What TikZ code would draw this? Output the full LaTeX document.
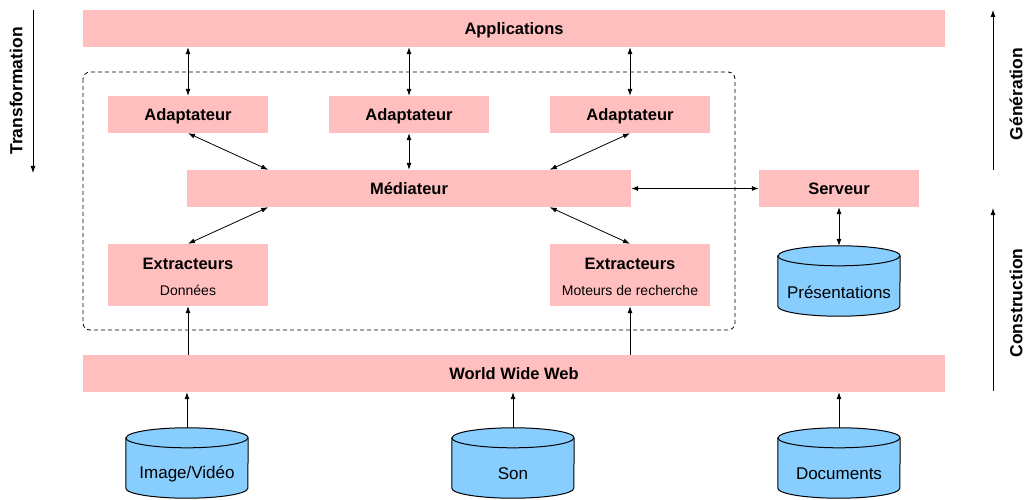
\documentclass[tikz,border=0pt]{standalone}
\usepackage{fontspec}
\setmainfont{Liberation Sans}
\usetikzlibrary{arrows.meta,calc,positioning}
\definecolor{BoxPink}{HTML}{FFBFBF}
\definecolor{BaseBlue}{HTML}{87CEFF}
\tikzset{
  tier/.style={
    fill=BoxPink, inner sep=0pt, align=center,
    minimum width=160pt, minimum height=37pt,
    font=\fontsize{16.5}{19}\selectfont\bfseries
  },
  bar/.style={tier, text height=12pt, text depth=0pt},
  drumbox/.style={minimum width=122pt, minimum height=70pt, inner sep=0pt},
  drumline/.style={draw=black, fill=BaseBlue, line width=1pt},
  drumtext/.style={font=\fontsize{17}{20}\selectfont},
  sidelabel/.style={rotate=90, font=\fontsize{17.5}{21}\selectfont\bfseries},
  link/.style={{Latex[length=7pt,width=5pt]}-{Latex[length=7pt,width=5pt]}, line width=0.8pt},
  feed/.style={-{Latex[length=7pt,width=5pt]}, line width=0.8pt},
  frame/.style={dash pattern=on 4pt off 3pt, rounded corners=7pt, line width=0.8pt}
}
\newcommand{\subtxt}{\fontsize{14}{16}\selectfont\mdseries}
% data store: name, centre, text
\newcommand{\drum}[3]{%
  \coordinate (#1-c) at #2;
  \node[drumbox] (#1) at (#1-c) {};
  \filldraw[drumline] ($(#1.north west)+(0,10)$) -- ($(#1.south west)-(0,10)$)
    arc[start angle=180, end angle=0, x radius=61, y radius=10]
    -- ($(#1.north east)+(0,10)$)
    arc[start angle=360, end angle=180, x radius=61, y radius=10] -- cycle;
  \draw[drumline, fill=none] ($(#1.north west)+(0,10)$)
    arc[start angle=180, end angle=0, x radius=61, y radius=10];
  \node[drumtext] (#1-t) at ($(#1-c)+(0,11)$) {#3};
}
\begin{document}
\begin{tikzpicture}[x=1pt,y=-1pt]
    \useasboundingbox (0,0) rectangle (1026,500);
    \draw[frame] (83,72) rectangle (735,330);
    \node[bar,minimum width=862pt] (app) at (514,28.5) {Applications};
    \node[bar] (adL) at (188,114.5) {Adaptateur};
    \node[bar] (adM) at (409,114.5) {Adaptateur};
    \node[bar] (adR) at (630,114.5) {Adaptateur};
    \node[bar,minimum width=444pt] (med) at (409,188.5) {Médiateur};
    \node[bar] (serv) at (839,188.5) {Serveur};
    \node[tier,minimum height=62pt] (extL) at (188,275) {\rule{0pt}{16pt}Extracteurs\\[7pt]{\subtxt Données}};
    \node[tier,minimum height=62pt] (extR) at (630,275) {\rule{0pt}{16pt}Extracteurs\\[7pt]{\subtxt Moteurs de recherche}};
    \drum{pres}{(839,281)}{Présentations}
    \node[bar,minimum width=862pt] (www) at (514,373.5) {World Wide Web};
    \drum{img}{(187,463)}{Image/Vidéo}
    \drum{son}{(513,463)}{Son}
    \drum{docs}{(839,463)}{Documents}
    % side arrows
    \coordinate (trA) at (33,10);
    \coordinate (trB) at (33,173);
    \coordinate (geA) at (993,10);
    \coordinate (geB) at (993,170);
    \coordinate (coA) at (993,208);
    \coordinate (coB) at (993,391);
    \draw[feed] (trA) -- (trB);
    \draw[feed] (geB) -- (geA);
    \draw[feed] (coB) -- (coA);
    \node[sidelabel] (trans) at (16,91) {Transformation};
    \node[sidelabel] (gen) at (1016,94) {Génération};
    \node[sidelabel] (cons) at (1016,303) {Construction};
    % connections
    \draw[link] (app.south -| adL) -- (adL.north);
    \draw[link] (app.south -| adM) -- (adM.north);
    \draw[link] (app.south -| adR) -- (adR.north);
    \draw[link] (adL.south) -- (adL.east |- med.north);
    \draw[link] (adM.south) -- (med.north);
    \draw[link] (adR.south) -- (adR.west |- med.north);
    \draw[link] (med.south -| extL.east) -- (extL.north);
    \draw[link] (med.south -| extR.west) -- (extR.north);
    \draw[link] (med.east) -- (serv.west);
    \draw[link] (serv.south) -- (pres.north);
    \draw[feed] (www.north -| extL) -- (extL.south);
    \draw[feed] (www.north -| extR) -- (extR.south);
    \draw[feed] (img.north) -- (www.south -| img);
    \draw[feed] (son.north) -- (www.south -| son);
    \draw[feed] (docs.north) -- (www.south -| docs);
  \end{tikzpicture}
\end{document}
